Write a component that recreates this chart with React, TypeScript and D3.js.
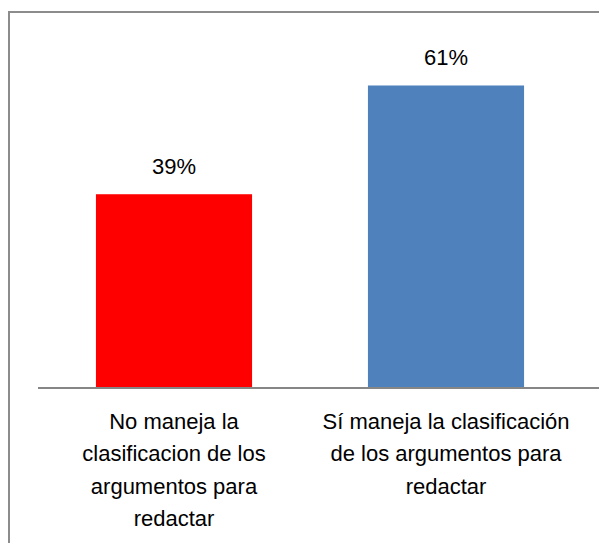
import React, { useRef, useEffect } from 'react';
import * as d3 from 'd3';

// chart data
const categories = ['no', 'si'];
const values = [0.39, 0.61];
const barColors = ['#ff0000', '#4f81bd'];
const categoryLines = [
    ['No maneja la', 'clasificacion de los', 'argumentos para', 'redactar'],
    ['Sí maneja la clasificación', 'de los argumentos para', 'redactar'],
];

const App = () => {
    const svgRef = useRef<SVGSVGElement>(null);

    useEffect(() => {
        const svg = d3.select(svgRef.current);
        svg.selectAll('*').remove();

        const width = 599;
        const height = 543;
        const plotLeft = 38;
        const plotRight = 582;
        const baseY = 387;
        const plotTop = 41;
        const fontFamily = '"Liberation Sans", Arial, sans-serif';

        svg
            .attr('width', width)
            .attr('height', height)
            .attr('viewBox', [0, 0, width, height])
            .style('position', 'absolute')
            .style('left', '0px')
            .style('top', '0px')
            .style('background', '#fff');

        // chart area frame (runs off the page on right and bottom)
        svg.append('rect')
            .attr('x', 9)
            .attr('y', 12)
            .attr('width', width + 20)
            .attr('height', height + 20)
            .attr('fill', 'none')
            .attr('stroke', '#8c8c8c')
            .attr('stroke-width', 2);

        const x = d3.scaleBand()
            .domain(categories)
            .range([plotLeft, plotRight])
            .paddingInner(0.426)
            .paddingOuter(0.213);

        const y = d3.scaleLinear()
            .domain([0, 0.7])
            .range([baseY, plotTop]);

        const fmt = d3.format('.0%');

        // bars
        svg.selectAll('rect.bar')
            .data(values)
            .join('rect')
            .attr('class', 'bar')
            .attr('x', (_, i) => x(categories[i]))
            .attr('y', d => y(d))
            .attr('width', x.bandwidth())
            .attr('height', d => y(0) - y(d))
            .attr('fill', (_, i) => barColors[i]);

        // value labels
        svg.selectAll('text.val')
            .data(values)
            .join('text')
            .attr('class', 'val')
            .attr('x', (_, i) => x(categories[i]) + x.bandwidth() / 2)
            .attr('y', d => y(d) - 20)
            .attr('text-anchor', 'middle')
            .attr('font-family', fontFamily)
            .attr('font-size', 22)
            .attr('fill', '#000')
            .text(d => fmt(d));

        // category axis
        svg.append('line')
            .attr('x1', plotLeft)
            .attr('x2', width)
            .attr('y1', y(0) + 1)
            .attr('y2', y(0) + 1)
            .attr('stroke', '#868686')
            .attr('stroke-width', 2);

        const labels = svg.selectAll('text.cat')
            .data(categoryLines)
            .join('text')
            .attr('class', 'cat')
            .attr('text-anchor', 'middle')
            .attr('font-family', fontFamily)
            .attr('font-size', 22)
            .attr('fill', '#000');

        labels.each(function (lines, i) {
            const cx = x(categories[i]) + x.bandwidth() / 2;
            d3.select(this)
                .selectAll('tspan')
                .data(lines)
                .join('tspan')
                .attr('x', cx)
                .attr('y', (_, j) => 429 + j * 32.3)
                .text(d => d);
        });
    }, []);

    return <svg ref={svgRef}></svg>;
};

export default App;
